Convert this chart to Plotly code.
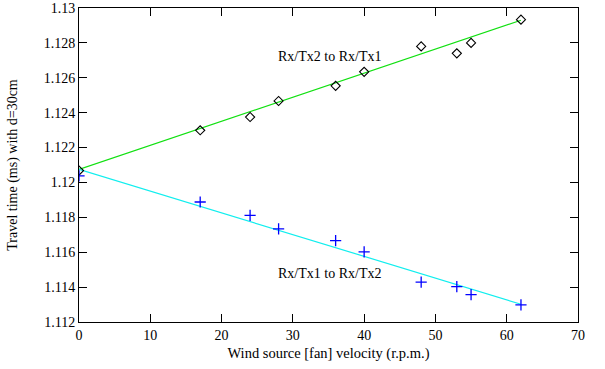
import plotly.graph_objects as go

# Data
velocity = [0, 17, 24, 28, 36, 40, 48, 53, 55, 62]
tx2_to_tx1 = [1.12068, 1.12299, 1.12375, 1.12467, 1.12554, 1.12634, 1.1278, 1.1274, 1.128, 1.12933]
tx1_to_tx2 = [1.12038, 1.11888, 1.11811, 1.11734, 1.11666, 1.11602, 1.11429, 1.11403, 1.11357, 1.11298]

fit_x = [0, 62]
fit_tx2_to_tx1 = [1.12075, 1.12930]
fit_tx1_to_tx2 = [1.12075, 1.11302]

x_ticks = [0, 10, 20, 30, 40, 50, 60, 70]
y_ticks = [1.112, 1.114, 1.116, 1.118, 1.12, 1.122, 1.124, 1.126, 1.128, 1.13]
y_tick_text = ["1.112", "1.114", "1.116", "1.118", "1.12", "1.122", "1.124", "1.126", "1.128", "1.13"]

label_upper = "Rx/Tx2 to Rx/Tx1"
label_lower = "Rx/Tx1 to Rx/Tx2"

FONT = "Liberation Serif"

fig = go.Figure()
fig.add_trace(go.Scatter(x=fit_x, y=fit_tx2_to_tx1, mode="lines",
                         line=dict(color="#11e011", width=1.2), showlegend=False))
fig.add_trace(go.Scatter(x=fit_x, y=fit_tx1_to_tx2, mode="lines",
                         line=dict(color="#11eeee", width=1.2), showlegend=False))
fig.add_trace(go.Scatter(x=velocity, y=tx2_to_tx1, mode="markers",
                         marker=dict(symbol="diamond-open", size=7, color="black",
                                     line=dict(width=1.1, color="black")),
                         showlegend=False))
fig.add_trace(go.Scatter(x=velocity, y=tx1_to_tx2, mode="markers",
                         marker=dict(symbol="cross-thin-open", size=8, color="blue",
                                     line=dict(width=1.3, color="blue")),
                         showlegend=False))

fig.add_annotation(x=27.7, y=1.12721, text=label_upper, showarrow=False,
                   xanchor="left", yanchor="middle", font=dict(family=FONT, size=14, color="black"))
fig.add_annotation(x=27.7, y=1.11478, text=label_lower, showarrow=False,
                   xanchor="left", yanchor="middle", font=dict(family=FONT, size=14, color="black"))

axis_common = dict(showgrid=False, zeroline=False, showline=True, linecolor="black",
                   linewidth=1, mirror="ticks", ticks="inside", ticklen=8,
                   tickcolor="black", automargin=False,
                   tickfont=dict(family=FONT, size=14, color="black"))

fig.update_xaxes(range=[0, 70], tickvals=x_ticks,
                 title=dict(text="Wind source [fan] velocity (r.p.m.)",
                            font=dict(family=FONT, size=14.5, color="black"), standoff=6),
                 **axis_common)
fig.update_yaxes(range=[1.112, 1.13], tickvals=y_ticks, ticktext=y_tick_text,
                 title=dict(text="Travel time (ms) with d=30cm",
                            font=dict(family=FONT, size=14, color="black"), standoff=22),
                 **axis_common)

fig.update_layout(width=605, height=369, plot_bgcolor="white", paper_bgcolor="white",
                  margin=dict(l=79, r=27, t=8, b=47),
                  font=dict(family=FONT, size=14, color="black"))

fig.write_html("out.html", config={"displayModeBar": False},
               post_script="document.body.style.margin='0';")
